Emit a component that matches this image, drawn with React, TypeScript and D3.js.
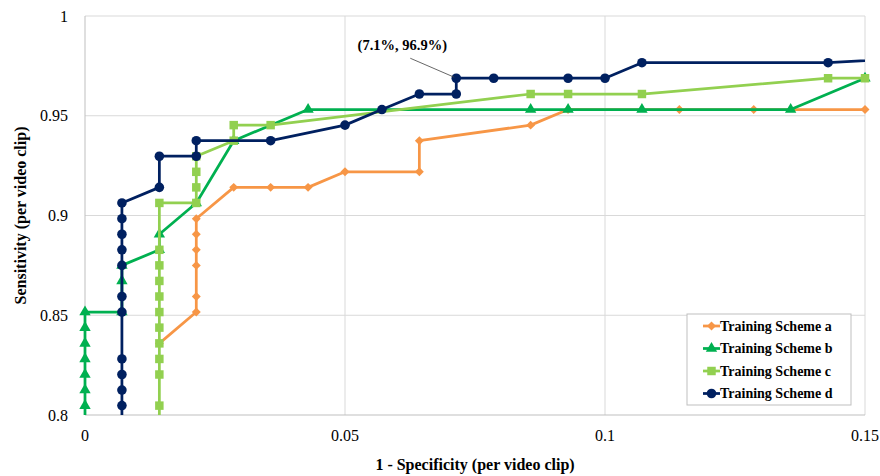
import * as d3 from "d3";

// ROC points (1 - specificity, sensitivity)
const schemeA_fpr = [0.0143, 0.0214, 0.0214, 0.0214, 0.0214, 0.0214, 0.0214, 0.0286, 0.0357, 0.0429, 0.05, 0.0643, 0.0643, 0.0857, 0.0929, 0.1143, 0.1286, 0.15];
const schemeA_tpr = [0.8359, 0.8516, 0.8594, 0.875, 0.8828, 0.8906, 0.8984, 0.9141, 0.9141, 0.9141, 0.9219, 0.9219, 0.9375, 0.9453, 0.9531, 0.9531, 0.9531, 0.9531];

const schemeB_fpr = [0, 0, 0, 0, 0, 0, 0, 0, 0.0071, 0.0071, 0.0071, 0.0143, 0.0143, 0.0214, 0.0286, 0.0429, 0.0857, 0.0929, 0.1071, 0.1357, 0.15];
const schemeB_tpr = [0.7813, 0.8047, 0.8125, 0.8203, 0.8281, 0.8359, 0.8438, 0.8516, 0.8516, 0.8672, 0.875, 0.8828, 0.8906, 0.9063, 0.9375, 0.9531, 0.9531, 0.9531, 0.9531, 0.9531, 0.9688];

const schemeC_fpr = [0.0143, 0.0143, 0.0143, 0.0143, 0.0143, 0.0143, 0.0143, 0.0143, 0.0143, 0.0143, 0.0143, 0.0143, 0.0214, 0.0214, 0.0214, 0.0214, 0.0286, 0.0286, 0.0357, 0.0857, 0.0929, 0.1071, 0.1429, 0.15];
const schemeC_tpr = [0.7813, 0.8047, 0.8203, 0.8281, 0.8359, 0.8438, 0.8516, 0.8594, 0.8672, 0.875, 0.8828, 0.9063, 0.9063, 0.9141, 0.9219, 0.9297, 0.9375, 0.9453, 0.9453, 0.9609, 0.9609, 0.9609, 0.9688, 0.9688];

const schemeD_fpr = [0.0071, 0.0071, 0.0071, 0.0071, 0.0071, 0.0071, 0.0071, 0.0071, 0.0071, 0.0071, 0.0071, 0.0071, 0.0143, 0.0143, 0.0214, 0.0214, 0.0357, 0.05, 0.0571, 0.0643, 0.0714, 0.0714, 0.0786, 0.0929, 0.1, 0.1071, 0.1429, 0.2];
const schemeD_tpr = [0.7813, 0.8047, 0.8125, 0.8203, 0.8281, 0.8516, 0.8594, 0.875, 0.8828, 0.8906, 0.8984, 0.9063, 0.9141, 0.9297, 0.9297, 0.9375, 0.9375, 0.9453, 0.9531, 0.9609, 0.9609, 0.9688, 0.9688, 0.9688, 0.9688, 0.9766, 0.9766, 0.9844];

const xTicks = [0, 0.05, 0.1, 0.15];
const yTicks = [0.8, 0.85, 0.9, 0.95, 1];

const annotationPoint = [0.0714, 0.9688];
const annotationText = "(7.1%, 96.9%)";

// excel-style diamond (square turned 45deg)
const symbolRhomb = {
  draw(ctx: any, size: number) {
    const r = Math.sqrt(size / 2);
    ctx.moveTo(0, -r);
    ctx.lineTo(r, 0);
    ctx.lineTo(0, r);
    ctx.lineTo(-r, 0);
    ctx.closePath();
  },
};

const series = [
  { name: "Training Scheme a", color: "#F79646", symbol: symbolRhomb, size: 40, fpr: schemeA_fpr, tpr: schemeA_tpr },
  { name: "Training Scheme b", color: "#00B050", symbol: d3.symbolTriangle, size: 56, fpr: schemeB_fpr, tpr: schemeB_tpr },
  { name: "Training Scheme c", color: "#92D050", symbol: d3.symbolSquare, size: 72, fpr: schemeC_fpr, tpr: schemeC_tpr },
  { name: "Training Scheme d", color: "#002060", symbol: d3.symbolCircle, size: 72, fpr: schemeD_fpr, tpr: schemeD_tpr },
];

const FONT = "'Liberation Serif', 'Times New Roman', serif";

export default function App() {
  const width = 880;
  const height = 476;
  const left = 85, right = 865, top = 16, bottom = 415;

  const x = d3.scaleLinear().domain([0, 0.15]).range([left, right]);
  const y = d3.scaleLinear().domain([0.8, 1]).range([bottom, top]);

  const line = d3
    .line<[number, number]>()
    .x((d) => x(d[0]))
    .y((d) => y(d[1]));

  const ax = x(annotationPoint[0]);
  const ay = y(annotationPoint[1]);

  const legendX = 687, legendY = 314, legendW = 164, legendH = 91;
  const rowH = 22.5;

  return (
    <svg width={width} height={height} style={{ position: "absolute", left: 0, top: 0, background: "#fff" }} fontFamily={FONT}>
      <defs>
        <clipPath id="plot-clip">
          <rect x={left - 5} y={top} width={right - left + 5} height={bottom - top} />
        </clipPath>
      </defs>

      {/* grid */}
      {yTicks.filter((t) => t > 0.8).map((t) => (
        <line key={"gy" + t} x1={left} x2={right} y1={y(t)} y2={y(t)} stroke="#d9d9d9" strokeWidth={1} />
      ))}
      {xTicks.filter((t) => t > 0).map((t) => (
        <line key={"gx" + t} x1={x(t)} x2={x(t)} y1={top} y2={bottom} stroke="#d9d9d9" strokeWidth={1} />
      ))}
      <line x1={left} x2={left} y1={top} y2={bottom} stroke="#bfbfbf" strokeWidth={1} />
      <line x1={left} x2={right} y1={bottom} y2={bottom} stroke="#bfbfbf" strokeWidth={1} />

      {/* tick labels */}
      {yTicks.map((t) => (
        <text key={"ty" + t} x={68} y={y(t)} dy="0.35em" textAnchor="end" fontSize={16} fill="#000">
          {String(t)}
        </text>
      ))}
      {xTicks.map((t) => (
        <text key={"tx" + t} x={x(t)} y={441} textAnchor="middle" fontSize={16} fill="#000">
          {String(t)}
        </text>
      ))}

      {/* axis titles */}
      <text x={(left + right) / 2} y={470} textAnchor="middle" fontSize={16} fontWeight="bold">
        1 - Specificity (per video clip)
      </text>
      <text transform={`translate(26, ${(top + bottom) / 2}) rotate(-90)`} textAnchor="middle" fontSize={16} fontWeight="bold">
        Sensitivity (per video clip)
      </text>

      {/* series */}
      {series.map((s) => {
        const pts: [number, number][] = s.fpr.map((f, i) => [f, s.tpr[i]]);
        const sym = d3.symbol().type(s.symbol as any).size(s.size)();
        return (
          <g key={s.name}>
            <path d={line(pts) || ""} fill="none" stroke={s.color} strokeWidth={2.75} clipPath="url(#plot-clip)" strokeLinejoin="round" />
            {pts
              .filter((p) => p[0] <= 0.15 && p[1] >= 0.8)
              .map((p, i) => (
                <path key={i} d={sym || ""} transform={`translate(${x(p[0])},${y(p[1])})`} fill={s.color} />
              ))}
          </g>
        );
      })}

      {/* annotation */}
      <line x1={ax - 46} y1={ay - 20} x2={ax - 2} y2={ay - 1} stroke="#404040" strokeWidth={0.8} />
      <text x={ax - 54} y={ay - 28} textAnchor="middle" fontSize={14.5} fontWeight="bold">
        {annotationText}
      </text>

      {/* legend */}
      <rect x={legendX} y={legendY} width={legendW} height={legendH} fill="#fff" stroke="#bfbfbf" strokeWidth={1} />
      {series.map((s, i) => {
        const cy = legendY + 12 + i * rowH;
        const sym = d3.symbol().type(s.symbol as any).size(s.size)();
        return (
          <g key={"lg" + s.name}>
            <line x1={703} x2={720} y1={cy} y2={cy} stroke={s.color} strokeWidth={2.75} />
            <path d={sym || ""} transform={`translate(711.5,${cy})`} fill={s.color} />
            <text x={720} y={cy} dy="0.35em" fontSize={14} fontWeight="bold">
              {s.name}
            </text>
          </g>
        );
      })}
    </svg>
  );
}
